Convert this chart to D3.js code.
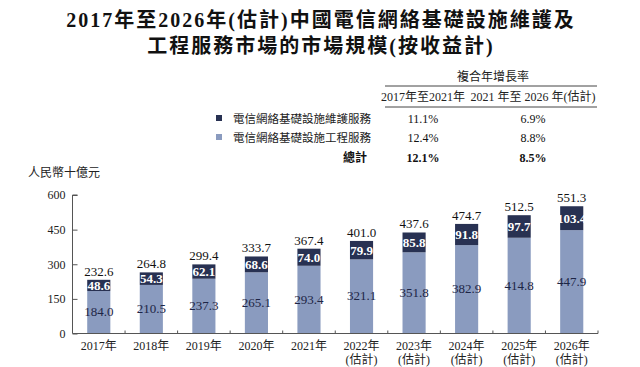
<!DOCTYPE html>
<html><head><meta charset="utf-8">
<script src="https://cdn.jsdelivr.net/npm/d3@7"></script>
<style>body{margin:0;background:#fff}svg{display:block}</style>
</head><body>
<svg id="c" width="640" height="367"></svg>
<script>
const years = ["2017年","2018年","2019年","2020年","2021年","2022年","2023年","2024年","2025年","2026年"];
const estimated = [false,false,false,false,false,true,true,true,true,true];
const engineering = [184.0,210.5,237.3,265.1,293.4,321.1,351.8,382.9,414.8,447.9];
const maintenance = [48.6,54.3,62.1,68.6,74.0,79.9,85.8,91.8,97.7,103.4];
const totals = [232.6,264.8,299.4,333.7,367.4,401.0,437.6,474.7,512.5,551.3];
const yTicks = [0,150,300,450,600];
const seriesNames = ["電信網絡基礎設施維護服務","電信網絡基礎設施工程服務"];
const cagrHeaders = ["2017年至2021年","2021 年至 2026 年(估計)"];
const cagrRows = [
  {label: seriesNames[0], a: "11.1%", b: "6.9%"},
  {label: seriesNames[1], a: "12.4%", b: "8.8%"},
  {label: "總計", a: "12.1%", b: "8.5%"}
];
const DARK = "#283152", LIGHT = "#8a9bbf";
const FONT = "'Liberation Serif','Noto Sans CJK TC',serif";

const svg = d3.select("#c");
svg.style("font-family", FONT);

// Title
const title = svg.append("text").attr("text-anchor","middle").attr("font-weight","bold")
  .attr("font-size", 20).attr("fill","#111").attr("letter-spacing", 2);
title.append("tspan").attr("x",321).attr("y",27).text("2017年至2026年(估計)中國電信網絡基礎設施維護及");
title.append("tspan").attr("x",321).attr("y",53).text("工程服務市場的市場規模(按收益計)");

// CAGR table
const colA = 423, colB = 533;
svg.append("text").attr("x",493).attr("y",81).attr("text-anchor","middle").attr("font-size",12).attr("fill","#222").text("複合年增長率");
svg.append("line").attr("x1",385).attr("x2",597).attr("y1",86).attr("y2",86).attr("stroke","#444").attr("stroke-width",1);
svg.append("text").attr("x",colA).attr("y",101).attr("text-anchor","middle").attr("font-size",12).attr("fill","#222").text(cagrHeaders[0]);
svg.append("text").attr("x",colB).attr("y",101).attr("text-anchor","middle").attr("font-size",12).attr("fill","#222").text(cagrHeaders[1]);
svg.append("line").attr("x1",385).attr("x2",597).attr("y1",107).attr("y2",107).attr("stroke","#444").attr("stroke-width",1);
const rowY = [123, 142, 162];
const swatch = [DARK, LIGHT];
cagrRows.forEach((r,i)=>{
  const bold = i===2;
  if (i<2) {
    svg.append("rect").attr("x",216).attr("y",rowY[i]-8).attr("width",6).attr("height",6).attr("fill",swatch[i]);
    svg.append("text").attr("x",233).attr("y",rowY[i]).attr("font-size",11.5).attr("fill","#222").text(r.label);
  } else {
    svg.append("text").attr("x",367).attr("y",rowY[i]).attr("text-anchor","end").attr("font-size",12).attr("font-weight","bold").attr("fill","#111").text(r.label);
  }
  svg.append("text").attr("x",colA).attr("y",rowY[i]).attr("text-anchor","middle").attr("font-size",12).attr("font-weight",bold?"bold":"normal").attr("fill","#111").text(r.a);
  svg.append("text").attr("x",colB).attr("y",rowY[i]).attr("text-anchor","middle").attr("font-size",12).attr("font-weight",bold?"bold":"normal").attr("fill","#111").text(r.b);
});

// Axis title
svg.append("text").attr("x",28).attr("y",177).attr("font-size",12).attr("fill","#222").text("人民幣十億元");

// Scales
const x0 = 72.5, x1 = 598, yBottom = 333.5, yTop = 195;
const x = d3.scaleBand().domain(years).range([x0,x1]).paddingInner(0.56).paddingOuter(0.28);
const y = d3.scaleLinear().domain([0,600]).range([yBottom,yTop]);

// Y axis
const yAxis = svg.append("g").attr("transform",`translate(${x0},0)`)
  .call(d3.axisRight(y).tickValues(yTicks).tickSize(5).tickFormat(d3.format("d")));
yAxis.select(".domain").attr("stroke","#555").attr("d",`M5,${yTop}H0V${yBottom}`);
yAxis.selectAll(".tick line").attr("stroke","#555");
yAxis.selectAll(".tick text").attr("x",-7).attr("text-anchor","end").attr("font-size",12).attr("fill","#222").attr("font-family",FONT);

// Bars
const g = svg.append("g");
years.forEach((yr,i)=>{
  const bx = x(yr), bw = x.bandwidth();
  g.append("rect").attr("x",bx).attr("width",bw).attr("y",y(engineering[i])).attr("height",y(0)-y(engineering[i])).attr("fill",LIGHT);
  g.append("rect").attr("x",bx).attr("width",bw).attr("y",y(totals[i])).attr("height",y(engineering[i])-y(totals[i])).attr("fill",DARK);
  const cx = bx + bw/2;
  g.append("text").attr("x",cx).attr("y",(y(0)+y(engineering[i]))/2+4).attr("text-anchor","middle").attr("font-size",13).attr("fill","#1d2545").text(engineering[i].toFixed(1));
  g.append("text").attr("x",cx).attr("y",(y(engineering[i])+y(totals[i]))/2+4.5).attr("text-anchor","middle").attr("font-size",13).attr("font-weight","bold").attr("fill","#fff").text(maintenance[i].toFixed(1));
  g.append("text").attr("x",cx).attr("y",y(totals[i])-4).attr("text-anchor","middle").attr("font-size",13).attr("fill","#111").text(totals[i].toFixed(1));
});

// X axis
const xg = svg.append("g");
xg.append("line").attr("x1",x0).attr("x2",x1).attr("y1",yBottom).attr("y2",yBottom).attr("stroke","#555");
const step = x.step();
years.forEach((yr,i)=>{
  const bx = x0 + step*(i+1);
  xg.append("line").attr("x1",bx).attr("x2",bx).attr("y1",yBottom).attr("y2",yBottom-3).attr("stroke","#555");
  const cx = x(yr)+x.bandwidth()/2;
  xg.append("text").attr("x",cx).attr("y",350).attr("text-anchor","middle").attr("font-size",12).attr("fill","#222").text(yr);
  if (estimated[i]) xg.append("text").attr("x",cx).attr("y",364).attr("text-anchor","middle").attr("font-size",12).attr("fill","#222").text("(估計)");
});
</script>
</body></html>
